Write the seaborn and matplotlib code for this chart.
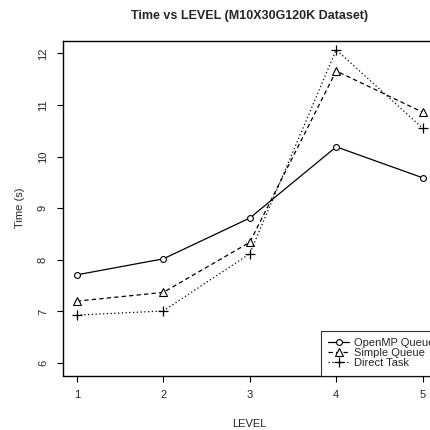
import matplotlib
matplotlib.use("Agg")
import matplotlib.pyplot as plt
import pandas as pd
import seaborn as sns

# dati
levels = [1, 2, 3, 4, 5]
openmp_queue = [7.71, 8.02, 8.81, 10.19, 9.59]
simple_queue = [7.20, 7.37, 8.34, 11.66, 10.86]
direct_task = [6.93, 7.01, 8.12, 12.07, 10.55]
series_names = ["OpenMP Queue", "Simple Queue", "Direct Task"]

sns.set_style("ticks")
plt.rcParams['font.family'] = ['Liberation Sans', 'DejaVu Sans']

df = pd.DataFrame({
    "LEVEL": levels * 3,
    "Time": openmp_queue + simple_queue + direct_task,
    "method": [n for n in series_names for _ in levels],
})

fig = plt.figure(figsize=(4.31, 4.30), dpi=100)
ax = fig.add_axes([63 / 431, 1 - 375.5 / 430, (436.5 - 63) / 431, (375.5 - 41) / 430])

styles = {
    "OpenMP Queue": dict(marker="o", linestyle="-", ms=4.2, mew=0.8),
    "Simple Queue": dict(marker="^", linestyle=(0, (3.5, 2.5)), ms=6, mew=0.8),
    "Direct Task": dict(marker="+", linestyle=(0, (1, 2)), ms=7, mew=0.9),
}
for name in series_names:
    sub = df[df["method"] == name]
    sns.lineplot(data=sub, x="LEVEL", y="Time", ax=ax, color="black", lw=0.9,
                 mfc="white", mec="black", label=name, legend=False, **styles[name])

ax.set_xlim(0.84, 5.16)
ax.set_ylim(5.76, 12.24)
ax.set_xticks(levels)
ax.set_yticks([6, 7, 8, 9, 10, 11, 12])
for s in ax.spines.values():
    s.set_visible(True)
    s.set_color("black")
    s.set_linewidth(1.0)
ax.tick_params(axis="both", length=4.3, width=0.8, color="black", labelsize=8, pad=6.5)
for lbl in ax.get_yticklabels():
    lbl.set_rotation(90)
    lbl.set_va("center")

ax.set_xlabel("LEVEL", fontsize=8, labelpad=13)
ax.set_ylabel("Time (s)", fontsize=8, labelpad=9)
fig.text(249.5 / 431, 1 - 15.5 / 430, "Time vs LEVEL (M10X30G120K Dataset)",
         ha="center", va="center", fontsize=9, fontweight="bold")

handles, labels = ax.get_legend_handles_labels()
leg = fig.legend(handles, labels, loc="lower left", bbox_to_anchor=(321 / 431, 1 - 375.5 / 430),
                 fontsize=8, frameon=True, fancybox=False, borderaxespad=0, borderpad=0.65,
                 labelspacing=0.0, handlelength=1.9, handletextpad=0.4)
leg.get_frame().set_edgecolor("black")
leg.get_frame().set_linewidth(0.8)

fig.savefig("out.png", dpi=100)
